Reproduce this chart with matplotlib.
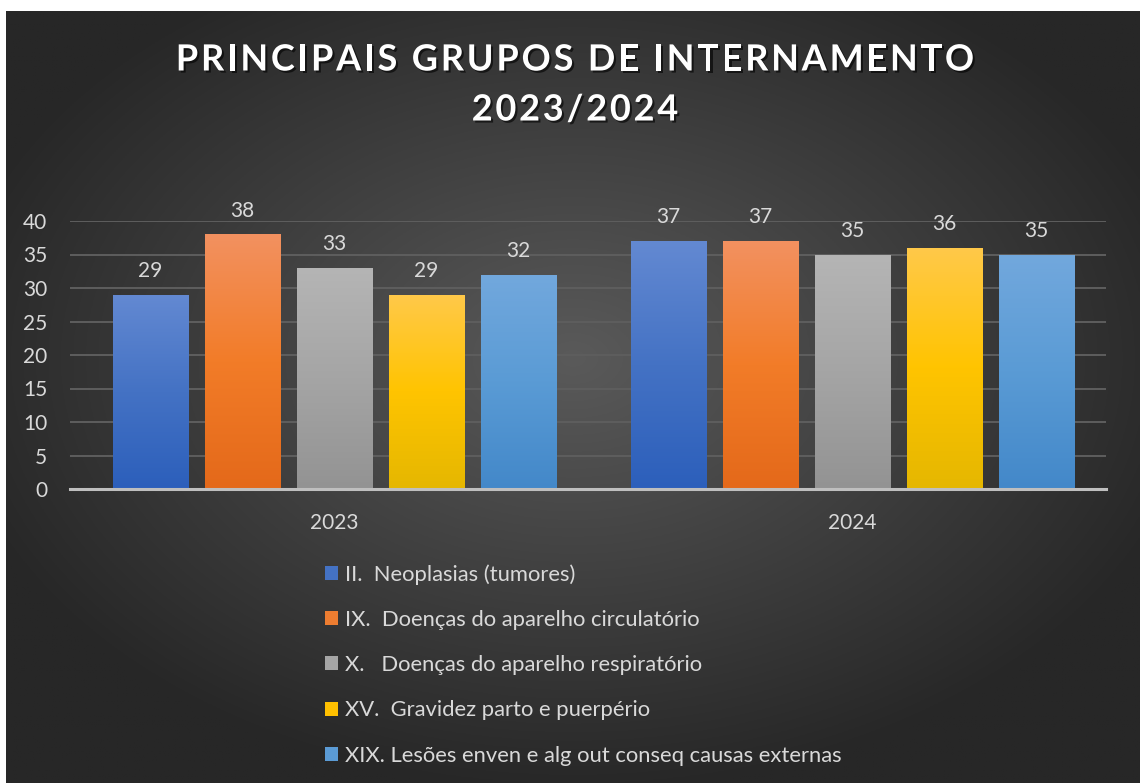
import numpy as np
import matplotlib
matplotlib.use("Agg")
import matplotlib.pyplot as plt
from matplotlib.colors import LinearSegmentedColormap
from matplotlib.patches import Patch
import matplotlib.patheffects as pe

# ---- data ----
years = ["2023", "2024"]
series_names = [
    "II.  Neoplasias (tumores)",
    "IX.  Doenças do aparelho circulatório",
    "X.   Doenças do aparelho respiratório",
    "XV.  Gravidez parto e puerpério",
    "XIX. Lesões enven e alg out conseq causas externas",
]
neoplasias = [29, 37]
circulatorio = [38, 37]
respiratorio = [33, 35]
gravidez = [29, 36]
lesoes = [32, 35]
values = [neoplasias, circulatorio, respiratorio, gravidez, lesoes]
yticks = [0, 5, 10, 15, 20, 25, 30, 35, 40]
title_lines = ["PRINCIPAIS GRUPOS DE INTERNAMENTO", "2023/2024"]

# styles
grad_colors = [
    ("#6389d2", "#4472c4", "#2c5fbb"),
    ("#f39160", "#f27c28", "#e4691a"),
    ("#b5b5b5", "#a5a5a5", "#939393"),
    ("#ffc94a", "#ffc400", "#e5b700"),
    ("#72a8dd", "#5a9bd5", "#4388c9"),
]
legend_colors = ["#4472c4", "#ed7d31", "#a5a5a5", "#ffc000", "#5b9bd5"]

plt.rcParams['font.family'] = ['Lato', 'DejaVu Sans']

W, H = 1140, 783
fig = plt.figure(figsize=(W / 100, H / 100), dpi=100, facecolor="white")
renderer = fig.canvas.get_renderer()

# background with radial gradient
bg = fig.add_axes([6 / W, 0, 1 - 6 / W, 1 - 11 / H])
bg.set_axis_off()
yy, xx = np.mgrid[0:1:400j, 0:1:600j]
r = np.sqrt(((xx - 0.5) / 0.75) ** 2 + ((yy - 0.45) / 0.75) ** 2)
r = np.clip(r / 0.75, 0, 1)
c_center = np.array([0x5a, 0x5a, 0x5a]) / 255
c_edge = np.array([0x27, 0x27, 0x27]) / 255
img = c_center[None, None, :] * (1 - r[..., None]) + c_edge[None, None, :] * r[..., None]
bg.imshow(img, extent=(0, 1, 0, 1), aspect="auto", origin="upper")
bg.set_xlim(0, 1)
bg.set_ylim(0, 1)

# title with letter spacing
title_fs = 26
tracking = 2.8  # px between characters
shadow = [pe.withSimplePatchShadow(offset=(1.5, -1.5), shadow_rgbFace="black", alpha=0.6)]


def text_width(s):
    t = fig.text(0, 0, s, fontsize=title_fs, fontweight="bold")
    w = t.get_window_extent(renderer).width
    t.remove()
    return w


bar_w = text_width("||")
for line, ycen in zip(title_lines, [60, 110]):
    widths = [text_width("|" + ch + "|") - bar_w for ch in line]
    total = sum(widths) + tracking * (len(line) - 1)
    xpos = W / 2 + 5 - total / 2
    for ch, w in zip(line, widths):
        if ch != " ":
            fig.text(xpos / W, 1 - ycen / H, ch, ha="left", va="center",
                     color="white", fontsize=title_fs, fontweight="bold", path_effects=shadow)
        xpos += w + tracking

# main axes
ax = fig.add_axes([70 / W, 1 - 489 / H, (1106 - 70) / W, (489 - 221) / H])
ax.set_facecolor("none")
ax.set_zorder(2)
n = len(values)
pitch = 0.1776
width = 0.145
x = np.arange(len(years))
for i, (vals, cols) in enumerate(zip(values, grad_colors)):
    offs = x + (i - (n - 1) / 2) * pitch
    bars = ax.bar(offs, vals, width=width, color=legend_colors[i], zorder=3,
                  path_effects=[pe.withSimplePatchShadow(offset=(0, 0), shadow_rgbFace="black", alpha=0.35),
                                pe.Normal()])
    cmap = LinearSegmentedColormap.from_list(f"g{i}", [cols[2], cols[1], cols[0]])
    grad = np.linspace(0, 1, 256).reshape(-1, 1)
    for b, v in zip(bars, vals):
        bx, bw = b.get_x(), b.get_width()
        im = ax.imshow(grad, extent=(bx, bx + bw, 0, v), origin="lower", aspect="auto",
                       cmap=cmap, zorder=4)
        im.set_clip_path(b)
        ax.annotate(f"{v}", (bx + bw / 2, v), xytext=(0, 10), textcoords="offset points",
                    ha="center", va="bottom", color="#d9d9d9", fontsize=15, zorder=5)

ax.set_xlim(-0.51, 1.49)
ax.set_ylim(0, 40)
ax.set_yticks(yticks)
ax.set_yticklabels([str(t) for t in yticks])
ax.set_xticks(x)
ax.set_xticklabels(years)
ax.tick_params(axis="y", length=0, pad=16.5, labelcolor="#d9d9d9", labelsize=15)
ax.tick_params(axis="x", length=0, pad=17, labelcolor="#d9d9d9", labelsize=15)
ax.grid(axis="y", color="#5e5e5e", linewidth=1.4, zorder=0)
ax.set_axisbelow(True)
for s in ["top", "right", "left"]:
    ax.spines[s].set_visible(False)
ax.spines["bottom"].set_color("#bfbfbf")
ax.spines["bottom"].set_linewidth(2.2)
ax.spines["bottom"].set_zorder(6)

handles = [Patch(facecolor=c, edgecolor="none") for c in legend_colors]
leg = fig.legend(handles, series_names, loc="upper left",
                 bbox_to_anchor=(325 / W, 1 - 564 / H), frameon=False,
                 borderaxespad=0, borderpad=0,
                 fontsize=15.8, labelcolor="#d9d9d9", handlelength=0.6,
                 handleheight=0.6, handletextpad=0.32, labelspacing=1.15)

fig.savefig("out.png", dpi=100, facecolor="white")
